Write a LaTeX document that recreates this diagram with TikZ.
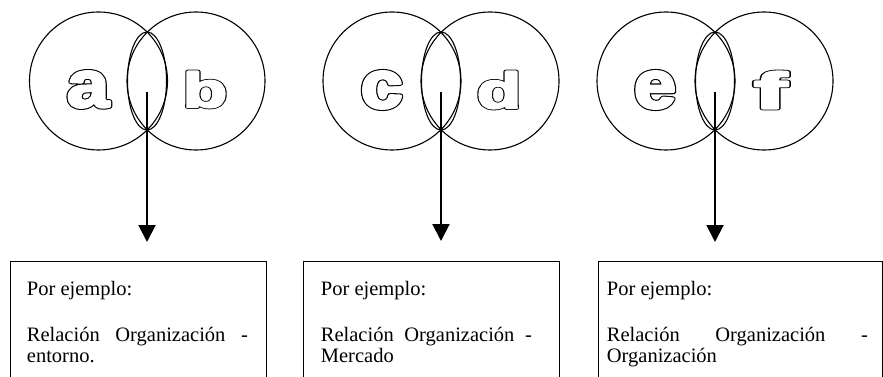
\documentclass[tikz,border=0pt]{standalone}
\usepackage{fontspec}
\setmainfont{Liberation Serif}
\newfontfamily\letterfont{Liberation Sans}
\usepackage{graphicx}
\usetikzlibrary{arrows.meta,shapes.geometric}
% outlined heavy letter: black dilated stroke, then white inner stroke+fill
\newcommand{\outl}[3]{\resizebox*{#2pt}{#3pt}{\fontsize{75}{80}\selectfont\letterfont\bfseries
  \rlap{\special{pdf:literal direct 2 Tr 5.6 w 1 j 0 g 0 G}#1}%
  \special{pdf:literal direct 2 Tr 3.2 w 1 j 1 g 1 G}#1%
  \special{pdf:literal direct 0 Tr 0 g 0 G}}}
\tikzset{
  ring/.style={circle, draw, line width=1.1pt, minimum size=138pt, inner sep=0pt},
  lens/.style={ellipse, draw, line width=1.1pt, minimum width=39pt, minimum height=98pt, inner sep=0pt},
  flow/.style={line width=2pt, -{Triangle[width=17pt,length=17pt]}},
  frame/.style={draw, line width=1pt, anchor=north west, minimum height=150pt, inner sep=0pt},
  letter/.style={inner sep=0pt, anchor=center},
  txt/.style={anchor=base west, inner sep=0pt, font=\fontsize{20.5}{22}\selectfont},
}
\begin{document}
\begin{tikzpicture}[x=1pt,y=-1pt]
\useasboundingbox (0,0) rectangle (883,377);
\clip (0,0) rectangle (883,377);
% group 1
\node[ring] (A1) at (98.5,81) {};
\node[ring] (A2) at (196,81) {};
\node[lens] (L1) at (147,81) {};
\node[letter] (la) at (88,89.5) {\outl{a}{42}{36}};
\node[letter] (lb) at (205,89.5) {\outl{b}{44}{36}};
\coordinate (s1) at (147,91.7);
\coordinate (t1) at (147,242);
\draw[flow] (s1) -- (t1);
\node[frame, minimum width=255.7pt] (B1) at (10,261) {};
\node[txt] (p1) at (26.7,295) {Por ejemplo:};
\node[txt] (r1) at (26.7,341) {\hbox to 221pt{Relación\hfill Organización\hfill -}};
\node[txt] (e1) at (26.7,362) {entorno.};
% group 2
\node[ring] (C1) at (392,81) {};
\node[ring] (C2) at (490,81) {};
\node[lens] (L2) at (441,81) {};
\node[letter] (lc) at (381.7,90) {\outl{c}{42}{37}};
\node[letter] (ld) at (499,90) {\outl{d}{44}{37}};
\coordinate (s2) at (441,91.7);
\coordinate (t2) at (441,241);
\draw[flow] (s2) -- (t2);
\node[frame, minimum width=255.7pt] (B2) at (303.3,261) {};
\node[txt] (p2) at (320.7,295) {Por ejemplo:};
\node[txt] (r2) at (320.7,341) {\hbox to 211pt{Relación\hfill Organización\hfill -}};
\node[txt] (e2) at (320.7,362) {Mercado};
% group 3
\node[ring] (E1) at (666,81) {};
\node[ring] (E2) at (764,81) {};
\node[lens] (L3) at (715,81) {};
\node[letter] (le) at (655,90) {\outl{e}{42}{37}};
\node[letter] (lf) at (770.5,90) {\outl{f}{33}{37}};
\coordinate (s3) at (715,91.7);
\coordinate (t3) at (715,242);
\draw[flow] (s3) -- (t3);
\node[frame, minimum width=284.3pt] (B3) at (597.7,261) {};
\node[txt] (p3) at (606.7,295) {Por ejemplo:};
\node[txt] (r3) at (606.7,341) {\hbox to 261pt{Relación\hfill Organización\hfill -}};
\node[txt] (e3) at (606.7,362) {Organización};
\end{tikzpicture}
\end{document}
